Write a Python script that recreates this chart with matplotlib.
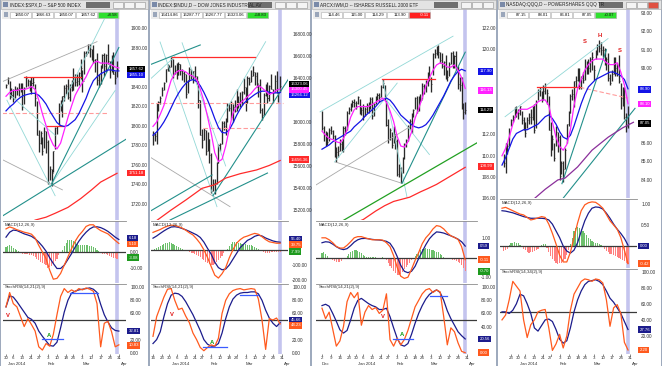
import matplotlib
matplotlib.use("Agg")
import matplotlib.pyplot as plt
from matplotlib.patches import Rectangle
from matplotlib.ticker import FuncFormatter
import numpy as np
import pandas as pd

plt.rcParams["font.family"] = ["Liberation Sans", "DejaVu Sans"]

W, H = 662, 366

# ---------------- data: S&P 500 (bars from 2013-12-30) ----------------
spx_high = [1842.5, 1849.4, 1845.9, 1838.2, 1837.2, 1840.1, 1840.0, 1843.2, 1843.8, 1843.5,
            1839.3, 1850.8, 1847.9, 1846.5, 1849.3, 1849.3, 1842.4, 1825.3, 1795.5, 1793.9,
            1788.6, 1798.8, 1793.9, 1784.8, 1758.7, 1755.8, 1774.1, 1798.0, 1800.0, 1823.5,
            1826.6, 1830.1, 1841.7, 1842.9, 1847.5, 1842.9, 1846.5, 1858.7, 1852.9, 1852.6,
            1854.5, 1867.9, 1857.4, 1876.2, 1876.5, 1883.6, 1883.6, 1878.3, 1882.4, 1868.4,
            1874.1, 1852.4, 1862.3, 1873.8, 1874.1, 1873.5, 1883.9, 1865.7, 1871.9, 1875.9,
            1855.6, 1866.6]
spx_low = [1838.8, 1842.4, 1827.7, 1829.1, 1823.7, 1828.7, 1831.4, 1830.4, 1834.8, 1815.5,
           1821.9, 1840.0, 1840.3, 1835.2, 1832.4, 1840.4, 1820.1, 1790.3, 1772.9, 1781.3,
           1770.0, 1777.2, 1772.3, 1739.7, 1743.8, 1737.9, 1752.6, 1776.0, 1791.8, 1800.8,
           1815.1, 1809.2, 1825.6, 1832.8, 1826.9, 1824.9, 1835.6, 1836.8, 1840.2, 1840.7,
           1841.1, 1847.7, 1834.4, 1853.0, 1871.0, 1874.2, 1870.6, 1867.4, 1863.9, 1854.4,
           1841.9, 1839.6, 1842.8, 1858.9, 1850.9, 1854.6, 1863.5, 1848.4, 1855.0, 1852.6,
           1842.1, 1850.1]
spx_close = [1841.1, 1848.4, 1832.0, 1831.4, 1826.8, 1837.9, 1837.5, 1838.1, 1842.4, 1819.2,
             1838.9, 1848.4, 1845.9, 1838.7, 1843.8, 1844.9, 1828.5, 1790.3, 1781.6, 1792.5,
             1774.2, 1794.2, 1782.6, 1741.9, 1755.2, 1751.6, 1773.4, 1797.0, 1799.8, 1819.8,
             1819.3, 1829.8, 1838.6, 1840.8, 1828.8, 1839.8, 1836.3, 1847.6, 1845.1, 1845.2,
             1854.3, 1859.5, 1845.7, 1873.9, 1873.8, 1877.0, 1878.0, 1877.2, 1867.6, 1868.2,
             1846.3, 1841.1, 1858.8, 1872.3, 1860.8, 1872.0, 1866.5, 1857.4, 1865.6, 1852.6,
             1849.0, 1857.6]
# every second bar
spx_fast = [1830, 1834, 1836, 1836, 1837, 1837, 1838, 1840, 1837, 1826, 1812, 1800, 1788, 1780,
            1776, 1782, 1795, 1808, 1820, 1831, 1838, 1844, 1850, 1858, 1864, 1866, 1864, 1864,
            1864, 1862, 1860, 1859]
spx_slow = [1815, 1819, 1822, 1826, 1829, 1831, 1832, 1833, 1833, 1831, 1827, 1822, 1815, 1809,
            1803, 1800, 1799, 1800, 1803, 1806, 1812, 1820, 1828, 1838, 1846, 1850, 1853, 1855,
            1857, 1857, 1856, 1856]
spx_long_x = [10, 16, 22, 27, 34, 41, 47, 52, 57, 61]
spx_long = [1697, 1703, 1706, 1710, 1716, 1725, 1734, 1742, 1747, 1751]
spx_lines = [("grey", (-2, 1845), (50, 1886)), ("grey", (-2, 1765), (31, 1734)),
             ("dash", (-2, 1813), (55.5, 1813)),
             ("pale", (25, 1740), (60, 1836)), ("pale", (0.5, 1826), (27, 1728)),
             ("pale", (2, 1832), (27, 1790)), ("pale", (30, 1819), (54, 1909)),
             ("teal", (-3, 1706), (66, 1786)), ("teal", (25, 1740), (62, 1880)),
             ("red", (10, 1850), (41, 1850)), ("red", (22.5, 1799.5), (32, 1799.5))]
spx_macd = [14, 15.2, 14.5, 13.5, 12.8, 12, 11.5, 10.8, 8.5, 4, 0, -4, -11, -16.5, -16, -13,
            -8, -3, 2, 6.5, 10, 12.5, 15.5, 16.5, 16.5, 14.5, 13, 12, 11, 9, 7, 5.2]
spx_signal = [9, 12, 13.3, 13, 12, 11, 10.3, 9.5, 8, 6, 3.5, 0.5, -3.5, -7, -10, -10, -8,
              -4.5, -1, 3, 6.5, 9.5, 12, 14, 15.2, 15.3, 14.8, 13.8, 12.5, 10.8, 9, 7.6]
spx_hist = [3, 3.5, 4, 3.5, 2.5, 2, 1.5, 0.5, -0.5, -1, -1.5, -1, -1.5, -2, -2, -2.5, -3, -4,
            -5, -6, -6.5, -7, -8, -9.5, -9, -8.5, -7, -5.5, -4, -2, -0.5, 1.5, 3.5, 5.5, 7,
            7.5, 7, 6.5, 6, 5, 4.5, 4, 4, 4.5, 4.5, 4, 3.5, 3.5, 3, 2.5, 1.5, 0.5, -0.5, -1,
            -1.5, -1.5, -2, -2.5, -3, -3.5, -3.5, -4]
spx_k = [70, 92, 75, 70, 55, 40, 52, 43, 33, 9, 4, 14, 10, 28, 58, 86, 98, 92, 96, 93, 98, 96,
         99, 97, 94, 75, 9, 45, 48, 32, 9, 12]
spx_d = [70, 87, 85, 78, 70, 62, 54, 51, 45, 33, 25, 18, 11, 10, 16, 38, 62, 80, 91, 94, 96,
         97, 98, 99, 97, 92, 74, 58, 47, 38, 34, 33]
spx_marks = [("V", 1, 57), ("A", 23.5, 27)]
spx_levels = [(19.8, 31.3, 21), (35, 50.5, 91)]
spx_quote = ["1850.07", "1866.63", "1850.07", "1857.62", "+8.58"]

# ---------------- data: Dow Jones (bars from 2013-12-16) ----------------
dji_high = [15920, 15900, 16168, 16190, 16240, 16318, 16361, 16484, 16529, 16515,
            16588, 16573, 16518, 16532, 16546, 16529, 16483, 16462, 16437, 16382,
            16497, 16482, 16464, 16510, 16415, 16372, 16197, 15935, 15942, 15928,
            15906, 15849, 15718, 15482, 15480, 15632, 15799, 15810, 16011, 16010,
            16040, 16175, 16177, 16195, 16160, 16200, 16300, 16240, 16270, 16280,
            16398, 16320, 16414, 16406, 16469, 16506, 16453, 16452, 16341, 16387,
            16130, 16267, 16343, 16363, 16340, 16440, 16304, 16430, 16459, 16270,
            16415]
dji_low = [15790, 15830, 15800, 16100, 16160, 16240, 16290, 16360, 16460, 16460,
           16500, 16400, 16440, 16390, 16430, 16424, 16380, 16362, 16218, 16260,
           16374, 16391, 16350, 16368, 16345, 16128, 15879, 15763, 15840, 15703,
           15738, 15628, 15356, 15373, 15341, 15440, 15625, 15735, 15801, 15927,
           15880, 16002, 16100, 16026, 16002, 16090, 16103, 16130, 16140, 16150,
           16257, 16100, 16170, 16336, 16360, 16417, 16334, 16320, 16223, 16082,
           16020, 16066, 16240, 16170, 16190, 16300, 16170, 16277, 16265, 16180,
           16268]
dji_close = [15885, 15875, 16168, 16179, 16221, 16295, 16358, 16480, 16478, 16504,
             16577, 16441, 16470, 16425, 16531, 16463, 16445, 16437, 16258, 16374,
             16482, 16417, 16459, 16414, 16373, 16197, 15879, 15838, 15929, 15739,
             15849, 15699, 15373, 15445, 15440, 15629, 15794, 15802, 15995, 15964,
             16028, 16154, 16130, 16041, 16133, 16103, 16207, 16180, 16198, 16273,
             16322, 16168, 16396, 16360, 16422, 16453, 16419, 16351, 16340, 16109,
             16066, 16247, 16336, 16222, 16331, 16303, 16277, 16368, 16269, 16264,
             16323]
dji_fast = [15960, 16000, 16070, 16150, 16270, 16380, 16440, 16465, 16470, 16455,
            16430, 16415, 16390, 16300, 16190, 16050, 15900, 15720, 15640, 15660,
            15780, 15940, 16080, 16140, 16170, 16200, 16230, 16260, 16300, 16330,
            16310, 16280, 16250, 16265, 16290, 16300]
dji_slow = [15880, 15910, 15950, 16000, 16060, 16130, 16200, 16260, 16310, 16350,
            16375, 16385, 16370, 16330, 16270, 16200, 16120, 16030, 15950, 15905,
            15900, 15930, 15990, 16060, 16120, 16170, 16200, 16225, 16250, 16270,
            16280, 16280, 16270, 16262, 16265, 16268]
dji_long_x = [0, 10, 18, 27, 34, 40, 48, 57, 64, 70]
dji_long = [15080, 15200, 15290, 15397, 15430, 15490, 15530, 15564, 15605, 15650]
dji_lines = [("dash", (-2, 16170), (71.5, 16170)), ("dash", (27.5, 15945), (59, 15945)),
             ("grey", (-2, 15685), (42.4, 15230)),
             ("pale", (-2, 16382), (12, 16594)), ("pale", (3.9, 16727), (35.2, 15230)),
             ("pale", (16, 16720), (40, 15600)), ("pale", (36, 15990), (62, 16730)),
             ("teal", (-2, 16518), (26, 16700)), ("teal", (-2, 15185), (32.5, 15518)),
             ("teal", (9.4, 15109), (63, 15536)), ("teal", (33, 15330), (75.4, 16412)),
             ("red", (10.5, 16594), (56, 16594))]
dji_macd = [125, 135, 145, 158, 168, 175, 172, 165, 155, 140, 122, 107, 80, 48, 5, -48, -110,
            -170, -190, -160, -118, -50, 5, 50, 75, 92, 100, 110, 118, 112, 95, 75, 60, 55,
            50, 50]
dji_signal = [85, 100, 118, 135, 150, 162, 164, 160, 152, 143, 132, 120, 108, 90, 58, 15, -25,
              -80, -118, -133, -128, -100, -60, -20, 20, 45, 70, 82, 98, 106, 100, 86, 76, 66,
              60, 57]
dji_hist = [5, 10, 15, 22, 30, 38, 45, 52, 55, 57, 52, 45, 38, 30, 25, 18, 10, 5, 0, -5, -10,
            -15, -20, -25, -32, -40, -48, -58, -68, -78, -88, -95, -100, -98, -92, -80, -65,
            -50, -35, -18, -5, 10, 28, 45, 58, 60, 58, 55, 52, 48, 45, 42, 40, 38, 35, 30, 25,
            18, 10, 4, -5, -10, -14, -15, -14, -12, -12, -10, -9, -8, -7]
dji_k = [25, 55, 70, 85, 97, 98, 80, 66, 68, 56, 46, 30, 20, 8, 3, 8, 12, 10, 22, 60, 80, 90,
         95, 97, 98, 96, 97, 98, 97, 82, 50, 5, 52, 50, 53, 44]
dji_d = [14, 20, 32, 55, 75, 88, 91, 90, 86, 78, 68, 58, 46, 34, 20, 13, 10, 10, 14, 30, 52,
         70, 82, 88, 91, 92, 92, 93, 93, 90, 80, 65, 53, 45, 40, 46]
dji_marks = [("V", 10.5, 58), ("A", 32.5, 15)]
dji_levels = [(27.5, 40.7, 9), (48, 58, 88)]
dji_quote = ["16414.86", "16287.77", "16267.77", "16323.06", "+58.83"]

# ---------------- data: iShares Russell 2000 (bars from 2013-12-02) ----------------
iwm_high = [114.2, 112.8, 112.3, 112.2, 112.6, 112.8, 112.4, 111.9, 110.8, 110.9,
            111.6, 111.4, 112.8, 112.8, 114.2, 114.6, 114.9, 115.2, 115.3, 115.1,
            115.6, 115.3, 114.6, 114.8, 114.6, 114.9, 115.0, 115.5, 115.5, 114.9,
            115.6, 115.9, 115.9, 116.6, 117.2, 116.6, 115.2, 113.4, 112.6, 112.2,
            112.8, 112.0, 111.6, 109.2, 108.9, 109.9, 111.2, 111.6, 112.9, 113.4,
            114.0, 114.4, 115.5, 115.6, 115.6, 115.8, 116.8, 116.7, 117.1, 117.8,
            118.4, 117.4, 119.6, 120.0, 120.3, 120.4, 119.7, 119.6, 118.9, 119.4,
            118.0, 118.8, 119.7, 119.8, 119.4, 119.8, 118.4, 117.4, 117.4, 114.9,
            115.0]
iwm_low = [112.4, 111.4, 110.9, 111.0, 111.4, 112.0, 111.6, 109.9, 109.4, 109.9,
           110.4, 110.4, 110.3, 111.9, 112.4, 113.9, 114.2, 114.6, 114.6, 114.4,
           114.8, 113.9, 113.8, 113.3, 113.7, 114.0, 114.0, 114.4, 113.4, 113.7,
           114.8, 115.2, 115.0, 115.5, 116.3, 115.2, 112.8, 111.2, 111.5, 110.7,
           111.2, 110.6, 108.1, 108.0, 107.4, 108.4, 109.7, 110.8, 111.4, 112.5,
           112.1, 113.6, 114.4, 114.0, 114.2, 115.0, 115.3, 115.8, 116.0, 116.5,
           117.0, 116.0, 117.6, 119.2, 119.4, 119.2, 118.7, 118.2, 117.6, 117.2,
           117.0, 117.5, 118.6, 118.2, 118.2, 118.0, 116.2, 116.1, 114.4, 113.4,
           113.9]
iwm_close = [112.6, 111.9, 112.0, 111.3, 112.4, 112.3, 111.8, 110.2, 110.3, 110.4,
             111.1, 110.8, 112.6, 112.4, 114.0, 114.4, 114.8, 115.0, 114.9, 114.9,
             115.5, 114.0, 114.3, 113.6, 114.4, 114.7, 114.6, 115.3, 113.7, 114.8,
             115.4, 115.7, 115.5, 116.4, 116.8, 115.5, 112.9, 111.6, 112.4, 111.0,
             112.5, 111.4, 108.3, 108.8, 108.4, 109.8, 111.1, 111.5, 112.7, 113.2,
             113.9, 114.3, 115.4, 114.2, 115.4, 115.2, 116.5, 116.3, 116.8, 117.7,
             117.6, 116.7, 119.5, 119.6, 119.7, 119.7, 119.0, 118.4, 118.8, 117.6,
             117.4, 118.6, 119.6, 118.8, 119.3, 118.2, 116.7, 116.6, 114.5, 114.1,
             114.3]
iwm_fast = [112.3, 111.9, 111.6, 111.5, 111.3, 111.2, 111.6, 112.4, 113.6, 114.3,
            114.6, 114.6, 114.6, 114.6, 114.8, 115.0, 115.2, 115.4, 115.0, 114.2,
            113.2, 111.8, 110.9, 110.8, 111.3, 112.2, 113.5, 114.4, 115.4, 116.5,
            117.3, 118.0, 118.5, 118.7, 118.6, 118.3, 118.3, 118.5, 118.0, 117.3, 116.3]
iwm_slow = [110.6, 110.8, 111.0, 111.3, 111.5, 111.7, 111.9, 112.1, 112.3, 112.7,
            113.0, 113.3, 113.7, 114.0, 114.3, 114.6, 115.0, 115.2, 115.4, 115.2,
            114.8, 114.3, 113.8, 113.5, 113.2, 112.9, 112.7, 112.6, 112.7, 112.9,
            113.3, 113.8, 114.4, 115.0, 115.6, 116.3, 117.0, 117.5, 117.9, 118.1, 117.95]
iwm_long_x = [20, 23, 30, 35, 40, 49, 55, 59, 64, 68, 73, 77, 80]
iwm_long = [103.8, 104.0, 104.8, 105.3, 105.7, 106.1, 106.6, 106.9, 107.3, 107.7, 108.2,
            108.6, 108.9]
iwm_lines = [("pale", (-1.1, 114.1), (73.2, 121.2)), ("pale", (34, 117.1), (47.5, 106.1)),
             ("pale", (36, 115.2), (60, 110.1)), ("pale", (7, 109.4), (42, 116.8)),
             ("grey", (7.5, 109.4), (44.7, 107.4)), ("grey", (-6.7, 106.9), (49, 112.7)),
             ("teal", (44.7, 107.4), (80, 119.7)), ("green", (11.7, 103.9), (86.6, 111.2)),
             ("red", (33.5, 117.15), (63, 117.15))]
iwm_macd = [1.0, 1.0, 0.9, 0.75, 0.56, 0.48, 0.48, 0.62, 0.8, 1.0, 1.06, 1.06, 1.0, 0.95, 0.9,
            0.9, 0.9, 0.88, 0.75, 0.55, 0.1, -0.5, -0.95, -1.06, -1.0, -0.6, -0.15, 0.25, 0.7,
            1.0, 1.2, 1.45, 1.62, 1.58, 1.45, 1.25, 1.1, 1.02, 0.92, 0.55, -0.11]
iwm_signal = [0.75, 0.8, 0.78, 0.68, 0.55, 0.45, 0.4, 0.45, 0.6, 0.78, 0.9, 0.96, 0.97, 0.95,
              0.92, 0.9, 0.89, 0.86, 0.82, 0.72, 0.45, 0.05, -0.4, -0.7, -0.77, -0.7, -0.45,
              -0.05, 0.3, 0.65, 0.95, 1.15, 1.3, 1.28, 1.24, 1.17, 1.1, 1.02, 0.93, 0.8, 0.58]
iwm_hist = [0.25, 0.28, 0.2, 0.1, 0.0, -0.1, -0.15, -0.2, -0.25, -0.25, -0.22, -0.18, -0.1,
            0.0, 0.1, 0.2, 0.28, 0.33, 0.36, 0.38, 0.35, 0.3, 0.22, 0.15, 0.08, 0.04, 0.02,
            0.03, 0.05, 0.04, 0.02, 0.0, -0.02, -0.03, 0.02, -0.05, -0.15, -0.3, -0.42, -0.55,
            -0.68, -0.8, -0.88, -0.9, -0.85, -0.75, -0.6, -0.5, -0.4, -0.3, -0.15, -0.05,
            0.08, 0.18, 0.28, 0.36, 0.42, 0.45, 0.47, 0.45, 0.42, 0.4, 0.38, 0.34, 0.3, 0.26,
            0.2, 0.12, 0.05, -0.02, -0.06, -0.08, -0.1, -0.12, -0.14, -0.16, -0.22, -0.3,
            -0.4, -0.55, -0.7]
iwm_k = [68, 52, 62, 36, 10, 18, 40, 78, 92, 84, 92, 42, 62, 72, 66, 69, 60, 65, 90, 20, 10,
         22, 12, 20, 34, 52, 70, 80, 90, 96, 98, 92, 96, 93, 55, 12, 38, 32, 15, 2, 0]
iwm_d = [72, 74, 71, 60, 48, 35, 30, 34, 50, 68, 80, 83, 79, 75, 72, 70, 66, 66, 68, 55, 38,
         22, 12, 10, 14, 28, 45, 60, 72, 82, 89, 93, 96, 92, 80, 64, 52, 42, 32, 26, 21]
iwm_marks = [("V", 34.1, 55), ("A", 44.7, 28)]
iwm_levels = [(39.7, 50.8, 20.5), (60.3, 69.8, 87)]
iwm_quote = ["114.46", "115.00", "114.29", "113.90", "-0.11"]

# ---------------- data: PowerShares QQQ (bars from 2013-12-17) ----------------
qqq_high = [85.4, 86.0, 86.0, 86.8, 87.3, 87.5, 87.9, 88.0, 87.8, 88.0,
            87.7, 87.4, 87.1, 87.4, 87.6, 87.8, 88.0, 88.1, 88.3, 88.9,
            89.0, 88.8, 89.1, 89.2, 88.9, 88.5, 87.1, 86.4, 86.0, 86.9,
            86.6, 86.4, 85.0, 85.0, 85.7, 87.0, 87.7, 88.6, 88.9, 89.3,
            89.6, 90.0, 90.0, 89.6, 89.8, 90.5, 90.4, 90.5, 90.6, 90.9,
            90.2, 91.0, 91.3, 91.5, 91.4, 91.2, 91.1, 90.6, 90.8, 89.7,
            89.9, 90.6, 90.6, 90.3, 90.7, 89.2, 89.0, 89.0, 87.6, 88.0]
qqq_low = [84.7, 84.4, 85.4, 85.8, 86.9, 87.1, 87.4, 87.4, 87.3, 87.5,
           87.0, 86.7, 86.3, 86.8, 87.0, 87.0, 87.2, 86.5, 86.8, 88.3,
           88.5, 88.2, 88.3, 88.6, 88.1, 86.7, 85.3, 85.6, 85.0, 85.8,
           85.5, 84.0, 84.3, 83.9, 84.6, 86.0, 86.9, 87.6, 88.3, 87.9,
           89.0, 89.3, 88.9, 88.9, 89.2, 89.4, 89.7, 89.7, 89.8, 89.9,
           89.4, 90.5, 90.7, 90.9, 90.7, 90.6, 90.2, 89.9, 89.3, 89.1,
           89.3, 89.7, 89.6, 89.6, 89.2, 87.8, 88.0, 87.3, 86.6, 86.8]
qqq_close = [84.9, 86.0, 85.8, 86.6, 87.2, 87.4, 87.8, 87.6, 87.6, 87.96,
             87.2, 86.8, 86.5, 87.2, 87.4, 87.4, 87.9, 86.7, 88.2, 88.8,
             88.9, 88.4, 88.8, 89.0, 88.7, 86.7, 85.7, 86.2, 85.2, 86.6,
             86.3, 84.2, 84.9, 84.6, 85.6, 87.0, 87.6, 88.5, 88.6, 89.3,
             89.4, 89.8, 89.0, 89.5, 89.4, 90.0, 90.1, 90.0, 90.5, 90.6,
             89.9, 90.9, 91.2, 91.1, 91.0, 91.0, 90.4, 90.5, 89.5, 89.2,
             89.7, 90.5, 90.0, 90.1, 89.3, 88.4, 88.5, 87.4, 86.9, 87.05]
qqq_fast = [85.3, 85.7, 86.3, 87.0, 87.5, 87.8, 87.8, 87.8, 87.9, 88.0, 88.2, 88.3, 88.3,
            88.0, 87.1, 86.3, 85.8, 85.6, 85.9, 86.7, 88.0, 88.9, 89.4, 89.9, 90.2, 90.4,
            90.5, 90.5, 90.5, 90.3, 90.2, 90.2, 90.3, 89.8, 89.1, 88.1]
qqq_slow = [84.8, 85.2, 85.7, 86.2, 86.5, 86.6, 86.7, 86.7, 86.8, 86.9, 87.0, 87.2, 87.4,
            87.5, 87.3, 87.0, 86.6, 86.3, 86.2, 86.4, 86.9, 87.5, 88.1, 88.6, 89.0, 89.2,
            89.4, 89.5, 89.6, 89.7, 89.8, 89.8, 89.7, 89.6, 89.4, 88.9]
qqq_long_x = [14, 18, 24, 31, 35, 42, 50, 59, 67, 73]
qqq_long = [82.6, 83.0, 83.5, 84.0, 84.1, 84.7, 85.6, 86.3, 86.8, 87.1]
qqq_lines = [("pale", (1.7, 87.4), (58.9, 91.6)), ("dash", (43.3, 88.98), (70, 88.4)),
             ("teal", (23.9, 81.8), (73.9, 87.85)), ("teal", (33.3, 83.8), (58, 91.0)),
             ("red", (19.4, 89.0), (43.3, 89.0))]
qqq_pattern = [("S", 46, 91.43), ("H", 54.4, 91.79), ("S", 65.5, 90.98)]
qqq_macd = [0.9, 0.92, 0.88, 0.84, 0.8, 0.76, 0.74, 0.68, 0.62, 0.64, 0.67, 0.7, 0.68, 0.52,
            0.3, 0.05, -0.22, -0.38, -0.38, -0.15, 0.2, 0.55, 0.84, 0.98, 1.03, 1.05, 1.04,
            0.98, 0.9, 0.75, 0.6, 0.5, 0.4, 0.2, -0.1, -0.42]
qqq_signal = [0.84, 0.83, 0.81, 0.79, 0.76, 0.73, 0.7, 0.68, 0.66, 0.66, 0.66, 0.66, 0.65,
              0.62, 0.52, 0.36, 0.2, 0.0, -0.12, -0.17, -0.1, 0.08, 0.35, 0.6, 0.78, 0.9,
              0.93, 0.92, 0.88, 0.78, 0.66, 0.52, 0.4, 0.3, 0.18, 0.02]
qqq_hist = [-0.12, -0.1, -0.06, 0.02, 0.06, 0.08, 0.09, 0.08, 0.06, 0.03, -0.02, -0.06, -0.1,
            -0.14, -0.16, -0.15, -0.14, -0.12, -0.1, -0.06, -0.02, 0.03, 0.05, 0.05, -0.05,
            -0.15, -0.25, -0.32, -0.36, -0.4, -0.42, -0.41, -0.4, -0.36, -0.3, -0.22, -0.1,
            0.05, 0.2, 0.35, 0.44, 0.46, 0.44, 0.4, 0.35, 0.3, 0.25, 0.2, 0.16, 0.12, 0.1,
            0.08, 0.06, 0.05, 0.03, -0.03, -0.08, -0.12, -0.15, -0.18, -0.2, -0.22, -0.24,
            -0.26, -0.28, -0.3, -0.33, -0.36, -0.4, -0.42]
qqq_k = [40, 46, 65, 88, 82, 76, 40, 18, 34, 40, 50, 52, 53, 30, 2, 10, 22, 5, 20, 52, 72, 80,
         88, 91, 90, 88, 91, 90, 86, 65, 32, 55, 59, 48, 12, 2.5]
qqq_d = [50, 50, 48, 52, 60, 72, 70, 60, 48, 30, 26, 33, 40, 41, 38, 28, 16, 11, 14, 30, 50,
         65, 76, 84, 88, 89, 90, 88, 84, 76, 67, 62, 55, 48, 38, 28]
qqq_quote = ["87.15", "88.01", "86.81", "87.05", "+0.07"]

# ---------------- trading calendar ----------------
HOLIDAYS = pd.to_datetime(["2013-12-25", "2014-01-01", "2014-01-20", "2014-02-17"])
DAYS = pd.bdate_range("2013-12-02", "2014-04-04")
DAYS = DAYS[~DAYS.isin(HOLIDAYS)]
POS = {d: i for i, d in enumerate(DAYS)}
WEEK_FIRST = pd.Series(DAYS, index=DAYS).groupby(DAYS.to_period("W-SUN")).first().tolist()
MONTH_FIRST = pd.Series(DAYS, index=DAYS).groupby(DAYS.to_period("M")).first().tolist()
MONTH_NAMES = {12: "Dec", 1: "Jan 2014", 2: "Feb", 3: "Mar", 4: "Apr"}

NAVY = "#1c1c8c"
ORANGE = "#ff5a1e"
PINK = "#ff22ff"
BLUE = "#1414e6"
RED = "#ff2a2a"
HGREEN = "#6cc06c"
HRED = "#ff8080"
LINE_STYLE = {"pale": dict(color="#92d8d6", lw=0.6), "teal": dict(color="#23908b", lw=0.8),
              "grey": dict(color="#a8a8a8", lw=0.6), "red": dict(color=RED, lw=0.9),
              "dash": dict(color="#ff9c9c", lw=0.8, ls=(0, (4, 2))),
              "green": dict(color="#22a022", lw=0.9)}

fig = plt.figure(figsize=(W / 100, H / 100), dpi=100)
fig.patch.set_facecolor("#9eaabd")


def fbox(x0, y0, x1, y1):
    return [x0 / W, 1 - y1 / H, (x1 - x0) / W, (y1 - y0) / H]


def frect(x0, y0, x1, y1, fc, ec="none", lw=0.4, z=5):
    fig.add_artist(Rectangle((x0 / W, 1 - y1 / H), (x1 - x0) / W, (y1 - y0) / H,
                             transform=fig.transFigure, fc=fc, ec=ec, lw=lw, zorder=z))


def ftext(x, y, s, z=8, **kw):
    fig.text(x / W, 1 - y / H, s, zorder=z, **kw)


def value_box(ax, y, text, fc):
    w = ax.get_position().width * W
    ax.text(1 + 2.5 / w, y, text, transform=ax.get_yaxis_transform(), fontsize=3.1,
            color="white", va="center", ha="left", clip_on=False, zorder=10,
            bbox=dict(boxstyle="square,pad=0.3", fc=fc, ec="none"))


def style_axes(ax, xlim, ylim, ticks, boxes, hpx, top=True):
    ax.set_xlim(*xlim)
    ax.set_ylim(*ylim)
    ax.set_facecolor("white")
    for s in ["left", "right", "bottom"]:
        ax.spines[s].set_visible(False)
    ax.spines["top"].set_visible(top)
    ax.spines["top"].set_color("#8c8c8c")
    ax.spines["top"].set_linewidth(0.6)
    ax.yaxis.tick_right()
    # tick labels hidden behind a value box are not drawn, as on the platform
    per_px = (ylim[1] - ylim[0]) / hpx
    keep = [t for t in ticks if all(abs(t - b[1]) > 5.5 * per_px for b in boxes)]
    ax.set_yticks(keep)
    ax.yaxis.set_major_formatter(FuncFormatter(lambda v, _: "{:.2f}".format(v)))
    ax.tick_params(axis="y", length=0, pad=3, labelsize=3.4, colors="#303030")
    ax.set_xticks([])


def draw_panel(p):
    x0, x1 = p["box"]
    pl, pr = p["plot"]
    frect(x0, 0, x1, H, "white", z=-1)
    base = POS[pd.Timestamp(p["base"])]
    first = p["first"]
    last = first + len(p["close"]) - 1
    xb = first + np.arange(len(p["close"]))
    xs = 2 * np.arange(len(p["fast"]))
    (py0, py1), (my0, my1), (sy0, sy1) = p["rows"]

    # price section
    ax = fig.add_axes(fbox(pl, py0, pr, py1))
    style_axes(ax, p["xlim"], p["pylim"], p["pticks"], p["pboxes"], py1 - py0, top=False)
    ax.axvline(last, color="#c4c4ee", lw=2.6, zorder=0)
    ax.vlines(xb, p["low"], p["high"], color="#2a2a2a", lw=0.95, zorder=2)
    ax.hlines(p["close"], xb, xb + 0.6, color="#2a2a2a", lw=0.5, zorder=2)
    for kind, a, b in p["lines"]:
        ax.plot([a[0], b[0]], [a[1], b[1]], zorder=3, **LINE_STYLE[kind])
    ax.plot(p["long_x"], p["long"], color=p["long_color"], lw=0.9, zorder=3)
    ax.plot(xs, p["slow"], color=BLUE, lw=0.9, zorder=4)
    ax.plot(xs, p["fast"], color=PINK, lw=0.9, zorder=4)
    for s, xi, yi in p.get("pattern", []):
        ax.text(xi, yi, s, color="#e02020", fontsize=4.2, fontweight="bold",
                ha="center", va="center", zorder=5)
    for text, yv, fc in p["pboxes"]:
        value_box(ax, yv, text, fc)

    # MACD section
    ax = fig.add_axes(fbox(pl, my0, pr, my1))
    style_axes(ax, p["xlim"], p["mylim"], p["mticks"], p["mboxes"], my1 - my0)
    ax.axvline(last, color="#c4c4ee", lw=2.6, zorder=0)
    hist = np.array(p["hist"])
    ax.bar(xb, hist, width=0.6, color=np.where(hist >= 0, HGREEN, HRED), lw=0, zorder=1)
    ax.axhline(0, color="#3a3a3a", lw=0.9, zorder=2)
    ax.plot(xs, p["signal"], color=NAVY, lw=0.9, zorder=3)
    ax.plot(xs, p["macd"], color=ORANGE, lw=0.9, zorder=3)
    ax.text(0.015, 0.97, "MACD(12,26,9)", transform=ax.transAxes, fontsize=3.2,
            va="top", ha="left", color="#303030")
    for text, yv, fc in p["mboxes"]:
        value_box(ax, yv, text, fc)

    # StochRSI section
    ax = fig.add_axes(fbox(pl, sy0, pr, sy1))
    style_axes(ax, p["xlim"], p["sylim"], range(0, 101, 20), p["sboxes"], sy1 - sy0)
    ax.axvline(last, color="#c4c4ee", lw=2.6, zorder=0)
    ax.axhline(50, color="#3a3a3a", lw=0.9, zorder=2)
    ax.plot(xs, p["d"], color=NAVY, lw=0.9, zorder=3)
    ax.plot(xs, p["k"], color=ORANGE, lw=0.9, zorder=3)
    for a, b, lv in p.get("levels", []):
        ax.plot([a, b], [lv, lv], color="#3a5cff", lw=0.9, zorder=4)
    for s, xi, yi in p.get("marks", []):
        ax.text(xi, yi, s, color="#e01010" if s == "V" else "#109a10", fontsize=4.2,
                fontweight="bold", ha="center", va="center", zorder=5)
    ax.text(0.015, 0.985, p["stoch_label"], transform=ax.transAxes, fontsize=3.2,
            va="top", ha="left", color="#303030")
    for text, yv, fc in p["sboxes"]:
        value_box(ax, yv, text, fc)

    # date axis
    start = DAYS[base + first]
    end = pd.Timestamp("2014-03-31")
    tdays = [d for d in WEEK_FIRST if start <= d <= end]
    ax.set_xticks([POS[d] - base for d in tdays])
    ax.set_xticklabels([str(d.day) for d in tdays])
    ax.tick_params(axis="x", length=1.2, width=0.4, pad=0.3, labelsize=3.2,
                   colors="#303030")
    hpx = sy1 - sy0
    for d in MONTH_FIRST:
        if d >= start and d.month in MONTH_NAMES:
            off = 4 if d.month == 1 else 2
            ax.text(POS[d] - base + off, -9.6 / hpx, MONTH_NAMES[d.month],
                    transform=ax.get_xaxis_transform(), fontsize=3.1, ha="center",
                    va="center", color="#303030", clip_on=False)

    # window title bar
    frect(x0, 0, x1, 8.5, "#e3e3e3", ec="#a4a4a4", z=6)
    frect(x0 + 1.5, 1.5, x0 + 6.5, 7, "#7a8aa8", z=7)
    ftext(x0 + 8.5, 4.6, p["title"], fontsize=3.3, va="center", color="#202020")
    frect(x1 - 62, 2, x1 - 38, 7.5, "#6f6f6f", z=7)
    for bx in (x1 - 35, x1 - 24, x1 - 13):
        close_btn = p.get("active") and bx == x1 - 13
        frect(bx, 2, bx + 10, 7.5, "#e05040" if close_btn else "#f4f4f4", ec="#909090",
              z=7)

    # quote row overlay
    frect(x0 + 1, 10, x0 + 9 + 22 * 5, 19, "#ececec", z=6)
    frect(x0 + 3, 12, x0 + 7, 17, "#9aa6ba", z=7)
    for i, q in enumerate(p["quote"]):
        bx = x0 + 9 + 22 * i
        lastbox = i == len(p["quote"]) - 1
        fc = ("#2fe02f" if q.startswith("+") else "#ff2020") if lastbox else "white"
        frect(bx, 11.5, bx + 20.5, 17.8, fc, ec="#b0b0b0", z=7)
        ftext(bx + 19.5, 14.8, q, fontsize=3.1, ha="right", va="center",
              color="#101010" if fc != "#ff2020" else "white")


STD_ROWS = ((9, 220), (221, 283), (284, 354))
PANELS = [
    dict(title="INDEX:$SPX,D -- S&P 500 INDEX", quote=spx_quote, box=(1, 148), plot=(3, 126),
         xlim=(-1.65, 65.93), rows=STD_ROWS, base="2013-12-30", first=0,
         high=spx_high, low=spx_low, close=spx_close, fast=spx_fast, slow=spx_slow,
         long_x=spx_long_x, long=spx_long, long_color=RED, lines=spx_lines,
         pylim=(1703.1, 1919.5), pticks=range(1720, 1901, 20),
         pboxes=[("1751.18", 1751.18, RED), ("1855.10", 1852.0, BLUE),
                 ("1857.62", 1858.0, "black")],
         macd=spx_macd, signal=spx_signal, hist=spx_hist, mylim=(-18.8, 18.8),
         mticks=[10, 0, -10],
         mboxes=[("6.18", 8.6, NAVY), ("5.10", 4.9, ORANGE), ("-3.08", -3.4, "#1e9a1e")],
         k=spx_k, d=spx_d, sylim=(-2.0, 105.0), stoch_label="StochRSI(14,21(2),9)",
         sboxes=[("32.81", 33, NAVY), ("10.83", 11, ORANGE)],
         marks=spx_marks, levels=spx_levels),
    dict(title="INDEX:$INDU,D -- DOW JONES INDUSTRIAL AV", quote=dji_quote, box=(150, 310),
         plot=(151, 288), xlim=(-1.10, 74.30), rows=STD_ROWS, base="2013-12-16", first=0,
         high=dji_high, low=dji_low, close=dji_close, fast=dji_fast, slow=dji_slow,
         long_x=dji_long_x, long=dji_long, long_color=RED, lines=dji_lines,
         pylim=(15109, 17027), pticks=range(15200, 16801, 200),
         pboxes=[("15656.36", 15656.36, RED), ("16266.12", 16247, BLUE),
                 ("16300.45", 16296, PINK), ("16323.06", 16345, "black")],
         macd=dji_macd, signal=dji_signal, hist=dji_hist, mylim=(-224.1, 203.4),
         mticks=[100, 0, -100, -200],
         mboxes=[("56.40", 76, NAVY), ("39.75", 40, ORANGE), ("-7.99", -8, "#1e9a1e")],
         k=dji_k, d=dji_d, sylim=(-2.0, 105.0), stoch_label="StochRSI(14,21(2),9)",
         sboxes=[("45.66", 50, NAVY), ("44.23", 42, ORANGE)],
         marks=dji_marks, levels=dji_levels),
    dict(title="ARCX:IWM,D -- ISHARES RUSSELL 2000 ETF", quote=iwm_quote, box=(312, 496),
         plot=(316, 477), xlim=(-3.35, 86.59), rows=STD_ROWS, base="2013-12-02", first=0,
         high=iwm_high, low=iwm_low, close=iwm_close, fast=iwm_fast, slow=iwm_slow,
         long_x=iwm_long_x, long=iwm_long, long_color=RED, lines=iwm_lines,
         pylim=(103.96, 123.75), pticks=range(106, 123, 2),
         pboxes=[("108.99", 108.99, RED), ("114.29", 114.29, "black"),
                 ("116.13", 116.13, PINK), ("117.90", 117.9, BLUE)],
         macd=iwm_macd, signal=iwm_signal, hist=iwm_hist, mylim=(-1.294, 1.853),
         mticks=[1, 0, -1],
         mboxes=[("0.59", 0.59, NAVY), ("-0.11", -0.11, ORANGE), ("-0.70", -0.7, "#1e9a1e")],
         k=iwm_k, d=iwm_d, sylim=(-2.0, 105.0), stoch_label="StochRSI(14,21(2),9)",
         sboxes=[("20.56", 21, NAVY), ("0.00", 0, ORANGE)],
         marks=iwm_marks, levels=iwm_levels),
    dict(title="NASDAQ:QQQ,D -- POWERSHARES QQQ TR", quote=qqq_quote, box=(498, 661),
         plot=(500, 637), xlim=(-1.11, 75.0), rows=((9, 198), (199, 268), (269, 354)),
         base="2013-12-16", first=1, active=True,
         high=qqq_high, low=qqq_low, close=qqq_close, fast=qqq_fast, slow=qqq_slow,
         long_x=qqq_long_x, long=qqq_long, long_color="#8b2f9b", lines=qqq_lines,
         pattern=qqq_pattern, pylim=(83.03, 93.19), pticks=range(84, 94),
         pboxes=[("88.90", 88.87, BLUE), ("88.10", 88.08, PINK), ("87.05", 87.05, "black")],
         macd=qqq_macd, signal=qqq_signal, hist=qqq_hist, mylim=(-0.524, 1.119),
         mticks=[1, 0.5, 0],
         mboxes=[("0.00", 0.0, NAVY), ("-0.42", -0.42, ORANGE)],
         k=qqq_k, d=qqq_d, sylim=(-2.5, 103.4), stoch_label="StochRSI(14,34(2),9)",
         sboxes=[("27.76", 28, NAVY), ("2.20", 2.5, ORANGE)]),
]

for panel in PANELS:
    draw_panel(panel)

fig.savefig("out.png", dpi=100, facecolor=fig.get_facecolor())
